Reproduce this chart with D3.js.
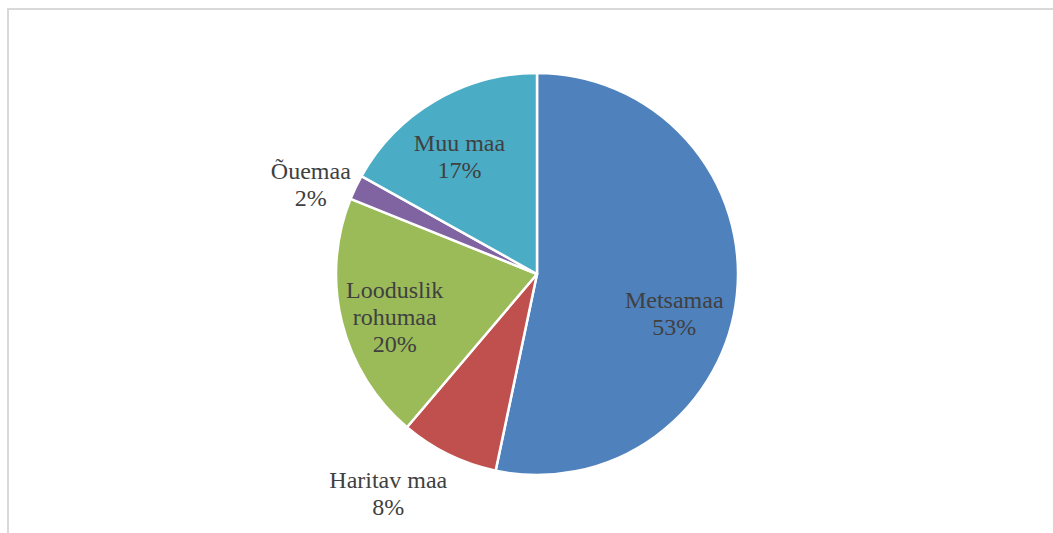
<!DOCTYPE html>
<html>
<head>
<meta charset="utf-8">
<script src="https://cdn.jsdelivr.net/npm/d3@7"></script>
<style>
  html, body { margin: 0; padding: 0; background: #fff; overflow: hidden; }
  .lbl { font-family: 'Liberation Serif', 'Times New Roman', Times, serif; }
</style>
</head>
<body>
<div id="chart"></div>
<script>
// land use shares (percent)
const categories = ['Metsamaa', 'Haritav maa', 'Looduslik rohumaa', 'Õuemaa', 'Muu maa'];
const values = [53.3, 7.9, 19.9, 2.0, 16.9];
const labelText = [['Metsamaa', '53%'], ['Haritav maa', '8%'], ['Looduslik', 'rohumaa', '20%'], ['Õuemaa', '2%'], ['Muu maa', '17%']];

const colors = ['#4f81bd', '#c0504d', '#9bbb59', '#8064a2', '#4bacc6'];

// label placement: [distance as share of radius, angle nudge in degrees]
const labelPlacement = [[0.71, 10], [1.32, 8], [0.74, -3], [1.21, -4], [0.70, -3]];

const width = 1053, height = 533;
const cx = 537, cy = 274, radius = 201;
const fontSize = 24, lineHeight = 27;

const svg = d3.select('#chart').append('svg')
    .attr('width', width)
    .attr('height', height);

// chart area frame (only top and left visible)
svg.append('rect')
    .attr('x', 8).attr('y', 9)
    .attr('width', width + 20).attr('height', height + 20)
    .attr('fill', 'none')
    .attr('stroke', '#d9d9d9')
    .attr('stroke-width', 2);

const pie = d3.pie().sort(null).value(d => d);
const arcs = pie(values);
const arc = d3.arc().innerRadius(0).outerRadius(radius);

const g = svg.append('g').attr('transform', `translate(${cx},${cy})`);

g.selectAll('path.slice')
    .data(arcs)
    .enter()
    .append('path')
    .attr('class', 'slice')
    .attr('d', arc)
    .attr('fill', (d, i) => colors[i])
    .attr('stroke', '#fff')
    .attr('stroke-width', 2.5)
    .attr('stroke-linejoin', 'round');

// labels
g.selectAll('text.lbl')
    .data(arcs)
    .enter()
    .append('text')
    .attr('class', 'lbl')
    .attr('text-anchor', 'middle')
    .attr('font-size', fontSize)
    .attr('fill', '#404040')
    .each(function(d, i) {
        const p = labelPlacement[i];
        const a = (d.startAngle + d.endAngle) / 2 + p[1] * Math.PI / 180;
        const r = radius * p[0];
        const x = Math.sin(a) * r;
        const y = -Math.cos(a) * r;
        const lines = labelText[i];
        const y0 = y - (lines.length - 1) * lineHeight / 2 + fontSize * 0.33;
        const t = d3.select(this);
        lines.forEach((ln, k) => {
            t.append('tspan')
                .attr('x', x)
                .attr('y', y0 + k * lineHeight)
                .text(ln);
        });
    });
</script>
</body>
</html>
